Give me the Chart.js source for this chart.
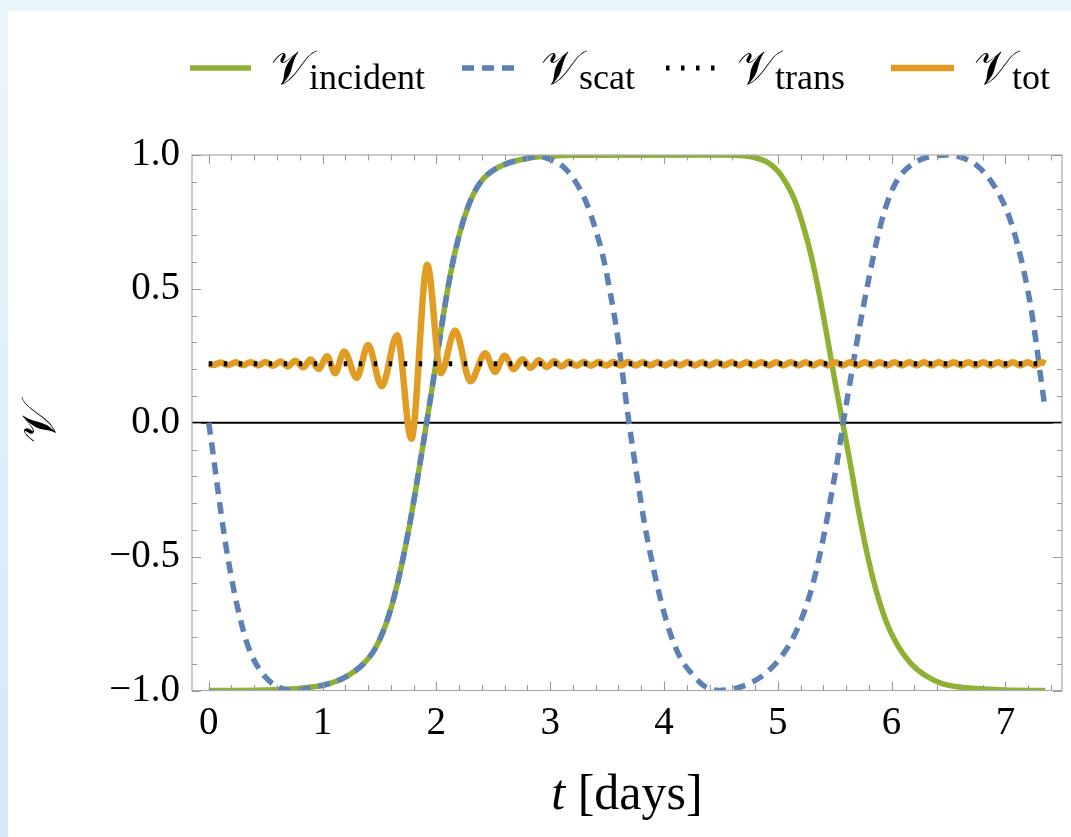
<!DOCTYPE html>
<html lang="en">
<head>
<meta charset="UTF-8">
<title>Visibility over time</title>
<script src="https://cdn.jsdelivr.net/npm/chart.js"></script>
<style>
  html, body { margin: 0; padding: 0; background: #fff; }
  #wrap { width: 1071px; height: 837px; }
</style>
</head>
<body>
<div id="wrap"><canvas id="visChart" width="1071" height="837"></canvas></div>
<script>
// time [days] / visibility samples for each curve
const incidentT = [0, 0.5, 0.85, 1.05, 1.2, 1.36, 1.46, 1.55, 1.62, 1.68, 1.72, 1.77, 1.83, 1.88, 1.92, 1.97, 2.01, 2.05, 2.10, 2.16, 2.23, 2.31, 2.40, 2.50, 2.62, 2.75, 2.90, 3.20, 4.50,
  4.70, 4.80, 4.90, 5.00, 5.08, 5.15, 5.22, 5.29, 5.36, 5.43, 5.50, 5.57, 5.64, 5.71, 5.78, 5.86, 5.95, 6.05, 6.17, 6.30, 6.45, 6.65, 7.00, 7.35];
const incidentV = [-1.0, -0.998, -0.99, -0.975, -0.95, -0.90, -0.845, -0.76, -0.665, -0.56, -0.48, -0.37, -0.22, -0.09, 0.015, 0.15, 0.26, 0.37, 0.50, 0.63, 0.745, 0.84, 0.905, 0.943, 0.968, 0.983, 0.993, 0.999, 1.0,
  0.997, 0.99, 0.975, 0.94, 0.89, 0.83, 0.74, 0.63, 0.49, 0.33, 0.16, 0.0, -0.16, -0.33, -0.48, -0.62, -0.74, -0.83, -0.90, -0.945, -0.975, -0.99, -0.998, -1.0];

const scatT = [0, 0.03, 0.08, 0.14, 0.20, 0.27, 0.35, 0.46, 0.60, 0.75, 0.90, 1.05, 1.2, 1.36, 1.46, 1.55, 1.62, 1.68, 1.72, 1.77, 1.83, 1.88, 1.92, 1.97, 2.01, 2.05, 2.10, 2.16, 2.23, 2.31, 2.40, 2.50, 2.62, 2.75,
  2.90, 3.02, 3.13, 3.23, 3.32, 3.40, 3.47, 3.53, 3.59, 3.64, 3.68, 3.72, 3.77, 3.83, 3.90, 3.97, 4.05, 4.14, 4.25, 4.36, 4.48,
  4.62, 4.76, 4.88, 4.98, 5.07, 5.15, 5.22, 5.29, 5.35, 5.41, 5.47, 5.52, 5.575, 5.63, 5.69, 5.75, 5.81, 5.87, 5.93, 6.00, 6.08, 6.18, 6.30, 6.48,
  6.62, 6.75, 6.86, 6.96, 7.04, 7.11, 7.17, 7.22, 7.27, 7.31, 7.35];
const scatV = [0.0, -0.09, -0.25, -0.43, -0.58, -0.72, -0.84, -0.93, -0.985, -1.0, -0.99, -0.975, -0.95, -0.90, -0.845, -0.76, -0.665, -0.56, -0.48, -0.37, -0.22, -0.09, 0.015, 0.15, 0.26, 0.37, 0.50, 0.63, 0.745, 0.84, 0.905, 0.943, 0.968, 0.983,
  0.995, 0.98, 0.95, 0.895, 0.82, 0.72, 0.61, 0.48, 0.33, 0.17, 0.04, -0.08, -0.22, -0.38, -0.53, -0.66, -0.78, -0.875, -0.94, -0.985, -1.0,
  -0.993, -0.972, -0.94, -0.90, -0.85, -0.79, -0.72, -0.63, -0.53, -0.41, -0.27, -0.15, 0.0, 0.14, 0.29, 0.43, 0.56, 0.68, 0.78, 0.865, 0.925, 0.965, 0.99, 1.0,
  0.99, 0.96, 0.91, 0.84, 0.76, 0.66, 0.55, 0.44, 0.30, 0.17, 0.05];

const transT = [0, 7.35];
const transV = [0.22, 0.22];

// total signal: turning points of the wave packet
const totT = [0, 0.04, 0.105, 0.17, 0.237, 0.30, 0.368, 0.435, 0.50, 0.565,
  0.63, 0.695, 0.76, 0.83, 0.895, 0.965, 1.04, 1.11, 1.19, 1.30,
  1.40, 1.52, 1.655, 1.78, 1.92, 2.04, 2.165, 2.30, 2.43, 2.515,
  2.60, 2.68, 2.755, 2.83, 2.90, 2.97, 3.035, 3.10,
  3.165, 3.23, 3.295, 3.36, 3.425, 3.49, 3.555, 3.62, 3.685, 3.75,
  3.815, 3.88, 3.945, 4.01, 4.075, 4.14, 4.205, 4.27, 4.335, 4.40,
  4.465, 4.53, 4.595, 4.66, 4.725, 4.79, 4.855, 4.92, 4.985, 5.05,
  5.115, 5.18, 5.245, 5.31, 5.375, 5.44, 5.505, 5.57, 5.635, 5.70,
  5.765, 5.83, 5.895, 5.96, 6.025, 6.09, 6.155, 6.22, 6.285, 6.35,
  6.415, 6.48, 6.545, 6.61, 6.675, 6.74, 6.805, 6.87, 6.935, 7.00,
  7.065, 7.13, 7.195, 7.26, 7.325, 7.35];
const totV = [0.220, 0.216, 0.225, 0.215, 0.2255, 0.2145, 0.226, 0.214, 0.227, 0.2125,
  0.229, 0.2105, 0.232, 0.207, 0.236, 0.201, 0.248, 0.185, 0.266, 0.168,
  0.290, 0.136, 0.327, -0.060, 0.590, 0.185, 0.345, 0.155, 0.260, 0.190,
  0.250, 0.200, 0.237, 0.205, 0.233, 0.208, 0.230, 0.210,
  0.2275, 0.2125, 0.227, 0.213, 0.2265, 0.2135, 0.2265, 0.2135, 0.2265, 0.2135,
  0.226, 0.214, 0.226, 0.214, 0.226, 0.214, 0.226, 0.214, 0.226, 0.214,
  0.226, 0.214, 0.226, 0.214, 0.226, 0.214, 0.226, 0.214, 0.226, 0.214,
  0.226, 0.214, 0.226, 0.214, 0.226, 0.214, 0.226, 0.214, 0.226, 0.214,
  0.226, 0.214, 0.226, 0.214, 0.226, 0.214, 0.226, 0.214, 0.226, 0.214,
  0.226, 0.214, 0.226, 0.214, 0.226, 0.214, 0.226, 0.214, 0.226, 0.214,
  0.226, 0.214, 0.226, 0.214, 0.226, 0.220];

const xTicks = [0, 1, 2, 3, 4, 5, 6, 7];
const yTicks = [-1, -0.5, 0, 0.5, 1];
const yTickLabels = ['\u22121.0', '\u22120.5', '0.0', '0.5', '1.0'];

const seriesNames = ['incident', 'scat', 'trans', 'tot'];

const GREEN = '#8fb032', BLUE = '#5e81b5', ORANGE = '#e19c24', BLACK = '#000';
const SERIF = '"Liberation Serif", "Times New Roman", serif';
const SCRIPT = '"DejaVu Serif", "DejaVu Sans", serif';

function pts(ts, vs) {
  return ts.map((t, i) => ({ x: t, y: vs[i] }));
}

const decor = {
  id: 'decor',
  beforeDraw(chart) {
    const ctx = chart.ctx;
    ctx.save();
    const g = ctx.createLinearGradient(0, 0, 0, chart.height);
    g.addColorStop(0, '#eaf6fc');
    g.addColorStop(1, '#d3e8f8');
    ctx.fillStyle = g;
    ctx.fillRect(0, 0, chart.width, chart.height);
    ctx.fillStyle = '#ffffff';
    ctx.fillRect(8, 11, chart.width - 8, chart.height - 11);
    ctx.restore();
  },
  beforeDatasetsDraw(chart) {
    // horizontal axis line at zero
    const { ctx, chartArea: a, scales } = chart;
    const y0 = scales.y.getPixelForValue(0);
    ctx.save();
    ctx.strokeStyle = '#000';
    ctx.lineWidth = 2;
    ctx.beginPath();
    ctx.moveTo(a.left, y0);
    ctx.lineTo(a.right, y0);
    ctx.stroke();
    ctx.restore();
  },
  afterDatasetsDraw(chart) {
    const { ctx, chartArea: a, scales } = chart;
    ctx.save();
    ctx.strokeStyle = '#ababab';
    ctx.lineWidth = 1.2;
    ctx.strokeRect(a.left, a.top, a.right - a.left, a.bottom - a.top);
    ctx.strokeStyle = '#9a9a9a';
    ctx.lineWidth = 1.1;
    ctx.beginPath();
    for (let i = -10; i <= 10; i++) {
      const y = Math.round(scales.y.getPixelForValue(i / 10)) + 0.5;
      const len = i % 5 === 0 ? 9 : 5;
      ctx.moveTo(a.left, y); ctx.lineTo(a.left + len, y);
      ctx.moveTo(a.right, y); ctx.lineTo(a.right - len, y);
    }
    for (let i = 0; i <= 37; i++) {
      const x = Math.round(scales.x.getPixelForValue(i * 0.2)) + 0.5;
      const len = i % 5 === 0 ? 9 : 5.5;
      ctx.moveTo(x, a.bottom); ctx.lineTo(x, a.bottom - len);
      ctx.moveTo(x, a.top); ctx.lineTo(x, a.top + len);
    }
    ctx.stroke();
    ctx.restore();
  },
  afterDraw(chart) {
    const { ctx, chartArea: a } = chart;
    ctx.save();
    ctx.fillStyle = '#000';

    // x axis title
    ctx.textBaseline = 'alphabetic';
    ctx.font = 'italic 50px ' + SERIF;
    const tW = ctx.measureText('t').width;
    ctx.font = '50px ' + SERIF;
    const restW = ctx.measureText(' [days]').width;
    let x = (a.left + a.right) / 2 - (tW + restW) / 2;
    ctx.font = 'italic 50px ' + SERIF;
    ctx.fillText('t', x, 809);
    ctx.font = '50px ' + SERIF;
    ctx.fillText(' [days]', x + tW, 809);

    // y axis title
    ctx.translate(43, (a.top + a.bottom) / 2);
    ctx.rotate(-Math.PI / 2);
    ctx.textAlign = 'center';
    ctx.textBaseline = 'middle';
    ctx.font = '48px ' + SCRIPT;
    ctx.fillText('\u{1D4B1}', 0, 0);
    ctx.restore();

    // legend
    const starts = [190, 462, 666, 891];
    const ly = 68;
    chart.data.datasets.slice().sort((p, q) => p.legendIndex - q.legendIndex).forEach((ds, k) => {
      const sx = starts[k];
      ctx.save();
      ctx.strokeStyle = ds.borderColor;
      ctx.lineWidth = ds.borderWidth;
      ctx.setLineDash(ds.borderDash || []);
      ctx.lineCap = 'butt';
      ctx.beginPath();
      ctx.moveTo(sx, ly);
      ctx.lineTo(sx + ds.legendLen, ly);
      ctx.stroke();
      ctx.restore();

      ctx.save();
      ctx.fillStyle = '#000';
      ctx.textBaseline = 'alphabetic';
      ctx.font = '48px ' + SCRIPT;
      const vx = sx + ds.legendLen + 20;
      ctx.fillText('\u{1D4B1}', vx, 84);
      const vw = ctx.measureText('\u{1D4B1}').width;
      ctx.font = '36px ' + SERIF;
      ctx.fillText(seriesNames[ds.legendIndex], vx + vw - 2, 89);
      ctx.restore();
    });
  }
};

new Chart(document.getElementById('visChart'), {
  type: 'line',
  data: {
    datasets: [
      { label: 'trans', legendIndex: 2, legendLen: 51, data: pts(transT, transV), borderColor: BLACK, borderWidth: 5, borderDash: [3.5, 11.5], order: 0 },
      { label: 'tot', legendIndex: 3, legendLen: 63, data: pts(totT, totV), borderColor: ORANGE, borderWidth: 6.5, cubicInterpolationMode: 'monotone', order: 1 },
      { label: 'scat', legendIndex: 1, legendLen: 59, data: pts(scatT, scatV), borderColor: BLUE, borderWidth: 5.5, borderDash: [12, 8], cubicInterpolationMode: 'monotone', order: 2 },
      { label: 'incident', legendIndex: 0, legendLen: 61, data: pts(incidentT, incidentV), borderColor: GREEN, borderWidth: 5.5, cubicInterpolationMode: 'monotone', order: 3 }
    ]
  },
  options: {
    responsive: false,
    devicePixelRatio: 1,
    animation: false,
    clip: 0,
    elements: {
      point: { radius: 0, hoverRadius: 0 },
      line: { borderCapStyle: 'butt', borderJoinStyle: 'round', fill: false }
    },
    layout: { padding: { top: 155, right: 9, left: 0, bottom: 0 } },
    plugins: { legend: { display: false }, tooltip: { enabled: false } },
    scales: {
      x: {
        type: 'linear',
        min: -0.147,
        max: 7.497,
        grid: { display: false, drawTicks: false },
        border: { display: false },
        afterBuildTicks: s => { s.ticks = xTicks.map(v => ({ value: v })); },
        afterFit: s => { s.height = 146.5; },
        ticks: {
          padding: 10,
          color: '#000',
          font: { family: SERIF, size: 39 },
          callback: v => String(v)
        }
      },
      y: {
        min: -1,
        max: 1,
        grid: { display: false, drawTicks: false },
        border: { display: false },
        afterBuildTicks: s => { s.ticks = yTicks.map(v => ({ value: v })); },
        afterFit: s => { s.width = 192; },
        ticks: {
          padding: 12,
          color: '#000',
          font: { family: SERIF, size: 39 },
          callback: v => yTickLabels[yTicks.indexOf(v)]
        }
      }
    }
  },
  plugins: [decor]
});
</script>
</body>
</html>
